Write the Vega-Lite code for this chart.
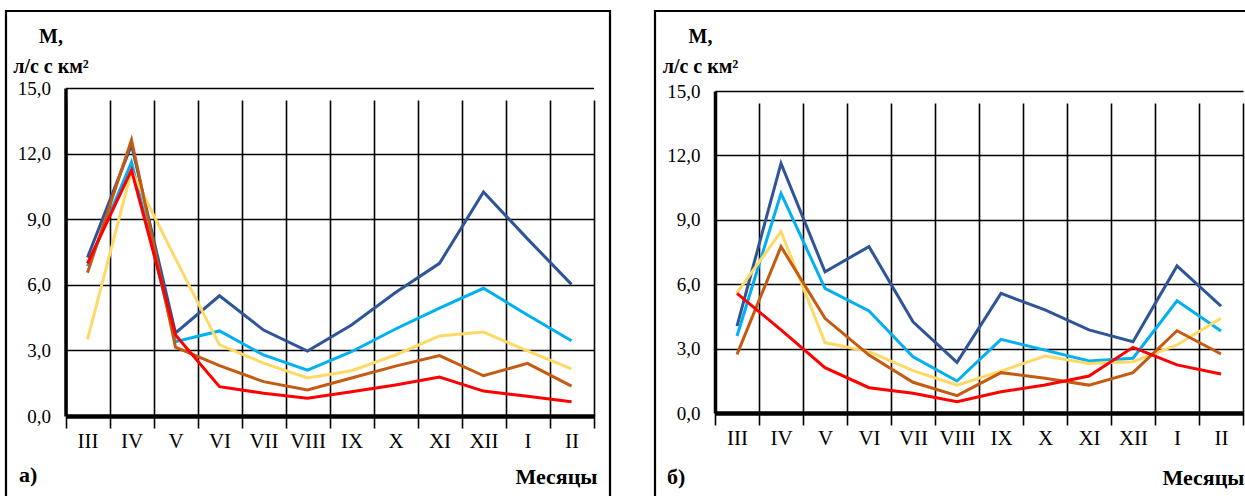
{
  "$schema": "https://vega.github.io/schema/vega-lite/v6.json",
  "background": "white",
  "padding": {"left": 4, "top": 9, "right": 0, "bottom": 0},
  "autosize": {"type": "pad"},
  "spacing": 41,
  "config": {
    "view": {"stroke": "black", "strokeWidth": 2.2},
    "font": "Liberation Serif",
    "axis": {
      "gridColor": "black", "gridOpacity": 1, "gridWidth": 1.6,
      "ticks": false, "domainColor": "black",
      "labelFont": "Liberation Serif", "labelColor": "black",
      "titleFont": "Liberation Serif", "titleColor": "black", "titleFontWeight": "bold",
      "titleBaseline": "alphabetic"
    },
    "axisX": {"grid": true, "tickBand": "extent", "domainWidth": 4.5, "labelFontSize": 21, "labelPadding": 14, "labelAngle": 0, "titleFontSize": 22, "titleAlign": "right"},
    "axisY": {"grid": true, "domainWidth": 3.5, "labelFontSize": 19, "labelPadding": 15, "titleAngle": 0, "titleAlign": "center", "titleFontSize": 20, "titleLineHeight": 30},
    "title": {"font": "Liberation Serif", "fontSize": 22, "fontWeight": "bold", "color": "black", "orient": "bottom", "anchor": "start", "frame": "group", "baseline": "alphabetic"}
  },
  "datasets": {
    "a": [
      {"month": "III", "series": "1", "value": 7.25}, {"month": "IV", "series": "1", "value": 12.4}, {"month": "V", "series": "1", "value": 3.8}, {"month": "VI", "series": "1", "value": 5.5}, {"month": "VII", "series": "1", "value": 3.93}, {"month": "VIII", "series": "1", "value": 2.97}, {"month": "IX", "series": "1", "value": 4.16}, {"month": "X", "series": "1", "value": 5.65}, {"month": "XI", "series": "1", "value": 6.98}, {"month": "XII", "series": "1", "value": 10.25}, {"month": "I", "series": "1", "value": 8.1}, {"month": "II", "series": "1", "value": 6.02},
      {"month": "III", "series": "2", "value": 6.85}, {"month": "IV", "series": "2", "value": 11.6}, {"month": "V", "series": "2", "value": 3.4}, {"month": "VI", "series": "2", "value": 3.89}, {"month": "VII", "series": "2", "value": 2.79}, {"month": "VIII", "series": "2", "value": 2.1}, {"month": "IX", "series": "2", "value": 2.94}, {"month": "X", "series": "2", "value": 3.98}, {"month": "XI", "series": "2", "value": 4.93}, {"month": "XII", "series": "2", "value": 5.84}, {"month": "I", "series": "2", "value": 4.62}, {"month": "II", "series": "2", "value": 3.44},
      {"month": "III", "series": "3", "value": 3.5}, {"month": "IV", "series": "3", "value": 11.2}, {"month": "V", "series": "3", "value": 7.2}, {"month": "VI", "series": "3", "value": 3.25}, {"month": "VII", "series": "3", "value": 2.42}, {"month": "VIII", "series": "3", "value": 1.74}, {"month": "IX", "series": "3", "value": 2.07}, {"month": "X", "series": "3", "value": 2.79}, {"month": "XI", "series": "3", "value": 3.66}, {"month": "XII", "series": "3", "value": 3.84}, {"month": "I", "series": "3", "value": 2.98}, {"month": "II", "series": "3", "value": 2.15},
      {"month": "III", "series": "4", "value": 6.55}, {"month": "IV", "series": "4", "value": 12.62}, {"month": "V", "series": "4", "value": 3.15}, {"month": "VI", "series": "4", "value": 2.3}, {"month": "VII", "series": "4", "value": 1.57}, {"month": "VIII", "series": "4", "value": 1.19}, {"month": "IX", "series": "4", "value": 1.74}, {"month": "X", "series": "4", "value": 2.28}, {"month": "XI", "series": "4", "value": 2.76}, {"month": "XII", "series": "4", "value": 1.84}, {"month": "I", "series": "4", "value": 2.41}, {"month": "II", "series": "4", "value": 1.37},
      {"month": "III", "series": "5", "value": 6.98}, {"month": "IV", "series": "5", "value": 11.25}, {"month": "V", "series": "5", "value": 3.7}, {"month": "VI", "series": "5", "value": 1.34}, {"month": "VII", "series": "5", "value": 1.04}, {"month": "VIII", "series": "5", "value": 0.81}, {"month": "IX", "series": "5", "value": 1.11}, {"month": "X", "series": "5", "value": 1.42}, {"month": "XI", "series": "5", "value": 1.78}, {"month": "XII", "series": "5", "value": 1.14}, {"month": "I", "series": "5", "value": 0.9}, {"month": "II", "series": "5", "value": 0.65}
    ],
    "b": [
      {"month": "III", "series": "1", "value": 4.05}, {"month": "IV", "series": "1", "value": 11.63}, {"month": "V", "series": "1", "value": 6.58}, {"month": "VI", "series": "1", "value": 7.75}, {"month": "VII", "series": "1", "value": 4.25}, {"month": "VIII", "series": "1", "value": 2.36}, {"month": "IX", "series": "1", "value": 5.57}, {"month": "X", "series": "1", "value": 4.8}, {"month": "XI", "series": "1", "value": 3.87}, {"month": "XII", "series": "1", "value": 3.32}, {"month": "I", "series": "1", "value": 6.85}, {"month": "II", "series": "1", "value": 4.98},
      {"month": "III", "series": "2", "value": 3.59}, {"month": "IV", "series": "2", "value": 10.23}, {"month": "V", "series": "2", "value": 5.81}, {"month": "VI", "series": "2", "value": 4.75}, {"month": "VII", "series": "2", "value": 2.62}, {"month": "VIII", "series": "2", "value": 1.49}, {"month": "IX", "series": "2", "value": 3.43}, {"month": "X", "series": "2", "value": 2.93}, {"month": "XI", "series": "2", "value": 2.42}, {"month": "XII", "series": "2", "value": 2.55}, {"month": "I", "series": "2", "value": 5.23}, {"month": "II", "series": "2", "value": 3.82},
      {"month": "III", "series": "3", "value": 5.6}, {"month": "IV", "series": "3", "value": 8.45}, {"month": "V", "series": "3", "value": 3.28}, {"month": "VI", "series": "3", "value": 2.86}, {"month": "VII", "series": "3", "value": 1.97}, {"month": "VIII", "series": "3", "value": 1.3}, {"month": "IX", "series": "3", "value": 1.95}, {"month": "X", "series": "3", "value": 2.65}, {"month": "XI", "series": "3", "value": 2.31}, {"month": "XII", "series": "3", "value": 2.39}, {"month": "I", "series": "3", "value": 3.17}, {"month": "II", "series": "3", "value": 4.41},
      {"month": "III", "series": "4", "value": 2.73}, {"month": "IV", "series": "4", "value": 7.75}, {"month": "V", "series": "4", "value": 4.41}, {"month": "VI", "series": "4", "value": 2.7}, {"month": "VII", "series": "4", "value": 1.43}, {"month": "VIII", "series": "4", "value": 0.81}, {"month": "IX", "series": "4", "value": 1.88}, {"month": "X", "series": "4", "value": 1.62}, {"month": "XI", "series": "4", "value": 1.3}, {"month": "XII", "series": "4", "value": 1.88}, {"month": "I", "series": "4", "value": 3.83}, {"month": "II", "series": "4", "value": 2.75},
      {"month": "III", "series": "5", "value": 5.57}, {"month": "IV", "series": "5", "value": 3.87}, {"month": "V", "series": "5", "value": 2.11}, {"month": "VI", "series": "5", "value": 1.18}, {"month": "VII", "series": "5", "value": 0.92}, {"month": "VIII", "series": "5", "value": 0.53}, {"month": "IX", "series": "5", "value": 0.99}, {"month": "X", "series": "5", "value": 1.3}, {"month": "XI", "series": "5", "value": 1.72}, {"month": "XII", "series": "5", "value": 3.06}, {"month": "I", "series": "5", "value": 2.24}, {"month": "II", "series": "5", "value": 1.82}
    ]
  },
  "hconcat": [
    {
      "width": 604,
      "height": 494,
      "data": {"name": "a"},
      "title": {"text": "а)", "offset": -40, "dx": 13},
      "mark": {"type": "line", "strokeWidth": 3},
      "encoding": {
        "x": {
          "field": "month", "type": "ordinal",
          "sort": ["III", "IV", "V", "VI", "VII", "VIII", "IX", "X", "XI", "XII", "I", "II"],
          "scale": {"type": "band", "range": [59.5, 587.5], "paddingInner": 0, "paddingOuter": 0},
          "axis": {"offset": -89, "title": "Месяцы", "titleX": 591, "titleY": 67}
        },
        "y": {
          "field": "value", "type": "quantitative",
          "scale": {"domain": [0, 15], "range": [405, 77], "nice": false, "zero": false},
          "axis": {"offset": -59.5, "values": [0, 3, 6, 9, 12, 15], "labelExpr": "replace(format(datum.value, '.1f'), '.', ',')", "title": ["M,", "л/с с км²"], "titleX": -15, "titleY": 31}
        },
        "color": {
          "field": "series", "type": "nominal",
          "scale": {"domain": ["1", "2", "3", "4", "5"], "range": ["#2F5597", "#00B0F0", "#FFD966", "#C55A11", "#FF0000"]},
          "legend": null
        }
      }
    },
    {
      "width": 600,
      "height": 494,
      "data": {"name": "b"},
      "title": {"text": "б)", "offset": -38, "dx": 12},
      "mark": {"type": "line", "strokeWidth": 3},
      "encoding": {
        "x": {
          "field": "month", "type": "ordinal",
          "sort": ["III", "IV", "V", "VI", "VII", "VIII", "IX", "X", "XI", "XII", "I", "II"],
          "scale": {"type": "band", "range": [60, 588], "paddingInner": 0, "paddingOuter": 0},
          "axis": {"offset": -92, "title": "Месяцы", "titleX": 589, "titleY": 71}
        },
        "y": {
          "field": "value", "type": "quantitative",
          "scale": {"domain": [0, 15], "range": [402, 80], "nice": false, "zero": false},
          "axis": {"offset": -60, "values": [0, 3, 6, 9, 12, 15], "labelExpr": "replace(format(datum.value, '.1f'), '.', ',')", "title": ["M,", "л/с с км²"], "titleX": -15, "titleY": 31}
        },
        "color": {
          "field": "series", "type": "nominal",
          "scale": {"domain": ["1", "2", "3", "4", "5"], "range": ["#2F5597", "#00B0F0", "#FFD966", "#C55A11", "#FF0000"]},
          "legend": null
        }
      }
    }
  ]
}
